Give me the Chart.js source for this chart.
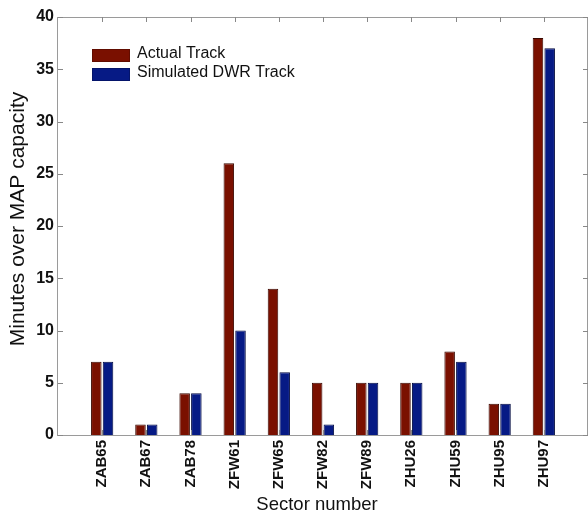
<!DOCTYPE html>
<html>
<head>
<meta charset="utf-8">
<script src="https://cdn.jsdelivr.net/npm/chart.js@4/dist/chart.umd.min.js"></script>
<style>
  html, body { margin: 0; padding: 0; background: #fff; }
  #wrap { width: 588px; height: 514px; }
</style>
</head>
<body>
<div id="wrap"><canvas id="chart" width="588" height="514"></canvas></div>
<script>
// sector data
const sectors = ['ZAB65', 'ZAB67', 'ZAB78', 'ZFW61', 'ZFW65', 'ZFW82', 'ZFW89', 'ZHU26', 'ZHU59', 'ZHU95', 'ZHU97'];
const actualTrack = [7, 1, 4, 26, 14, 5, 5, 5, 8, 3, 38];
const simulatedTrack = [7, 1, 4, 10, 6, 1, 5, 5, 7, 3, 37];
const yTicks = [0, 5, 10, 15, 20, 25, 30, 35, 40];

// empty slots at both ends, like xlim [0 12]
const labels = [''].concat(sectors, ['']);
const pad = arr => [null].concat(arr, [null]);

const FONT = '"Liberation Sans", Arial, sans-serif';

// box around plot, inward tick marks, axis titles and legend
const boxPlugin = {
  id: 'box',
  afterDraw(chart) {
    const { ctx, chartArea: a, scales } = chart;
    ctx.save();
    ctx.strokeStyle = '#9a9a9a';
    ctx.lineWidth = 1;
    ctx.strokeRect(a.left - 0.5, a.top + 0.5, a.right - a.left, a.bottom - a.top);

    ctx.strokeStyle = '#888';
    ctx.beginPath();
    yTicks.forEach(v => {
      const y = Math.round(scales.y.getPixelForValue(v)) + 0.5;
      ctx.moveTo(a.left, y); ctx.lineTo(a.left + 5, y);
      ctx.moveTo(a.right, y); ctx.lineTo(a.right - 5, y);
    });
    sectors.forEach((s, i) => {
      const x = Math.round(scales.x.getPixelForValue(i + 1)) + 0.5;
      ctx.moveTo(x, a.top); ctx.lineTo(x, a.top + 5);
      ctx.moveTo(x, a.bottom); ctx.lineTo(x, a.bottom - 5);
    });
    ctx.stroke();

    // axis titles
    ctx.fillStyle = '#111';
    ctx.textAlign = 'center';
    ctx.textBaseline = 'middle';
    ctx.font = '18.5px ' + FONT;
    ctx.fillText('Sector number', 317, 505);
    ctx.save();
    ctx.translate(18, 219);
    ctx.rotate(-Math.PI / 2);
    ctx.font = '21px ' + FONT;
    ctx.fillText('Minutes over MAP capacity', 0, 0);
    ctx.restore();

    // legend
    ctx.font = '16px ' + FONT;
    ctx.textAlign = 'left';
    chart.data.datasets.forEach((ds, i) => {
      const y = 49 + i * 19;
      ctx.fillStyle = ds.backgroundColor;
      ctx.fillRect(92, y, 38, 13);
      ctx.strokeStyle = 'rgba(0,0,0,0.2)';
      ctx.strokeRect(92.5, y + 0.5, 37, 12);
      ctx.fillStyle = '#111';
      ctx.fillText(ds.label, 137, y + 5);
    });
    ctx.restore();
  }
};

new Chart(document.getElementById('chart').getContext('2d'), {
  type: 'bar',
  data: {
    labels: labels,
    datasets: [{
      label: 'Actual Track',
      data: pad(actualTrack),
      backgroundColor: '#7a1000',
      borderColor: '#3a0800',
      borderWidth: 1,
      categoryPercentage: 0.53,
      barPercentage: 0.9
    }, {
      label: 'Simulated DWR Track',
      data: pad(simulatedTrack),
      backgroundColor: '#061a85',
      borderColor: '#020a40',
      borderWidth: 1,
      categoryPercentage: 0.53,
      barPercentage: 0.9
    }]
  },
  options: {
    responsive: false,
    animation: false,
    layout: { padding: { top: 17, right: 0, left: 0, bottom: 0 } },
    plugins: { legend: { display: false }, tooltip: { enabled: false } },
    scales: {
      x: {
        offset: false,
        grid: { display: false, drawTicks: false },
        border: { display: false },
        afterFit(scale) {
          scale.height = 79;
          scale.paddingLeft = 0;
          scale.paddingRight = 0;
        },
        ticks: {
          minRotation: 90, maxRotation: 90, autoSkip: false, padding: 5,
          color: '#111', font: { family: FONT, size: 15, weight: 'bold' }
        }
      },
      y: {
        min: 0, max: 40,
        grid: { display: false, drawTicks: false },
        border: { display: false },
        afterFit(scale) { scale.width = 58; },
        afterBuildTicks(scale) { scale.ticks = yTicks.map(v => ({ value: v })); },
        ticks: {
          padding: 4, color: '#111',
          font: { family: FONT, size: 16, weight: 'bold' }
        }
      }
    }
  },
  plugins: [boxPlugin]
});
</script>
</body>
</html>
